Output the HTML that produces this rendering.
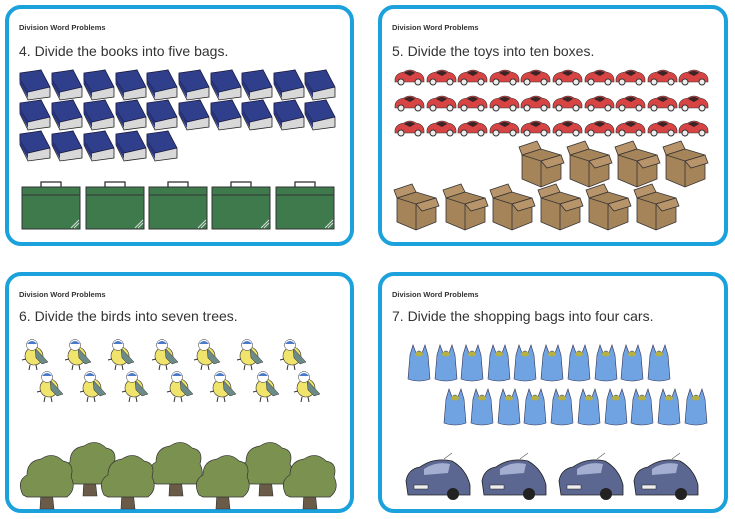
<!DOCTYPE html>
<html><head><meta charset="utf-8"><style>
html,body{margin:0;padding:0;background:#fff;width:735px;height:519px;overflow:hidden;font-family:"Liberation Sans",sans-serif}
.card{position:absolute;border:4px solid #1ba1dc;border-radius:16px;box-sizing:border-box;background:#fff}
.t1{position:absolute;left:10px;top:14px;font-size:7.5px;font-weight:bold;color:#333}
.t2{position:absolute;left:10px;top:34px;font-size:14px;color:#333}
svg{position:absolute;left:0;top:0}
</style></head><body>
<div class="card" style="left:5px;top:5px;width:349px;height:241px"><div class="t1">Division Word Problems</div><div class="t2">4. Divide the books into five bags.</div></div>
<div class="card" style="left:378px;top:5px;width:350px;height:241px"><div class="t1">Division Word Problems</div><div class="t2">5. Divide the toys into ten boxes.</div></div>
<div class="card" style="left:5px;top:272px;width:349px;height:241px"><div class="t1">Division Word Problems</div><div class="t2" style="top:32px">6. Divide the birds into seven trees.</div></div>
<div class="card" style="left:378px;top:272px;width:350px;height:241px"><div class="t1">Division Word Problems</div><div class="t2" style="top:32px">7. Divide the shopping bags into four cars.</div></div>
<svg width="735" height="519" viewBox="0 0 735 519">
<defs>
<g id="book"><path d="M1 4 L22 0 L31 18 L31 27 L9 30 L1 14Z" fill="#d8d8d8" stroke="#222" stroke-width=".8"/><path d="M1 3 L22 0 L31 17 L9 22 L1 10Z" fill="#2f3f8c" stroke="#1a1a40" stroke-width=".8"/><path d="M1 10 L9 22 L9 28 L1 14Z" fill="#2a3780"/></g>
<g id="bag"><rect x="20" y="0" width="20" height="6" fill="none" stroke="#333" stroke-width="1.3"/><rect x="1" y="5" width="58" height="42" fill="#3e7a4c" stroke="#333"/><line x1="1" y1="13" x2="59" y2="13" stroke="#333"/><path d="M50 46 L58 38 M53 46 L58 41" stroke="#ddd"/></g>
<g id="rcar"><path d="M1 11 Q2 5 10 4 Q16 0 22 4 Q29 5 30 11 L30 14 L1 14Z" fill="#d84444" stroke="#333" stroke-width=".6"/><path d="M10 5 Q16 1 21 5 L16 8Z" fill="#3a2424"/><circle cx="7" cy="14" r="3" fill="#eee" stroke="#333"/><circle cx="24" cy="14" r="3" fill="#eee" stroke="#333"/></g>
<g id="box"><path d="M3 14 L22 8 L42 14 L42 38 L22 46 L3 38Z" fill="#a6845a" stroke="#333" stroke-width=".8"/><path d="M3 14 L22 20 L42 14 M22 20 L22 46" stroke="#333" fill="none" stroke-width=".8"/><path d="M3 14 L0 6 L18 0 L22 8Z M42 14 L45 22 L28 27 L22 20Z" fill="#b8946a" stroke="#333" stroke-width=".8"/></g>
<g id="bird"><ellipse cx="12" cy="18" rx="9" ry="9" fill="#f1e46c" stroke="#333" stroke-width=".6"/><path d="M13 10 L26 24 L20 26 L14 20Z" fill="#6c8a86" stroke="#333" stroke-width=".5"/><circle cx="10" cy="7" r="5.5" fill="#fff" stroke="#333" stroke-width=".5"/><path d="M5 6 Q10 0 15 6Z" fill="#4a7ac8"/><path d="M8 27 L7 32 M14 27 L15 32 M0 22 L4 21" stroke="#333"/></g>
<g id="tree"><path d="M22 40 L21 58 L35 58 L33 40Z" fill="#6a5a48" stroke="#333" stroke-width=".6"/><path d="M4 44 Q-3 30 8 24 Q8 10 22 8 Q34 0 44 10 Q56 12 52 26 Q58 38 48 46 L8 46Z" fill="#7b9150" stroke="#333" stroke-width=".7"/></g>
<g id="sbag"><path d="M3 12 L6 2 L9 10 Q12 6 15 10 L18 2 L21 12 L23 36 Q12 40 1 36Z" fill="#6fa3e2" stroke="#335" stroke-width=".6"/><ellipse cx="12" cy="11" rx="4" ry="2.5" fill="#b5b040"/></g>
<g id="bcar"><path d="M2 26 Q4 14 16 12 Q30 2 48 6 Q62 14 66 30 L66 40 L4 40 Z" fill="#5b6691" stroke="#222" stroke-width=".8"/><path d="M20 14 Q32 6 46 9 L44 18 L20 20Z" fill="#a4aed0"/><rect x="10" y="30" width="14" height="4" fill="#eee" stroke="#222" stroke-width=".5"/><circle cx="49" cy="39" r="6" fill="#222"/><line x1="40" y1="4" x2="48" y2="-2" stroke="#555" stroke-width=".6"/></g>
</defs>
<g id="books">
<use href="#book" x="19" y="70"/><use href="#book" x="51" y="70"/><use href="#book" x="83" y="70"/><use href="#book" x="115" y="70"/><use href="#book" x="146" y="70"/><use href="#book" x="178" y="70"/><use href="#book" x="210" y="70"/><use href="#book" x="241" y="70"/><use href="#book" x="273" y="70"/><use href="#book" x="304" y="70"/>
<use href="#book" x="19" y="100"/><use href="#book" x="51" y="100"/><use href="#book" x="83" y="100"/><use href="#book" x="115" y="100"/><use href="#book" x="146" y="100"/><use href="#book" x="178" y="100"/><use href="#book" x="210" y="100"/><use href="#book" x="241" y="100"/><use href="#book" x="273" y="100"/><use href="#book" x="304" y="100"/>
<use href="#book" x="19" y="131"/><use href="#book" x="51" y="131"/><use href="#book" x="83" y="131"/><use href="#book" x="115" y="131"/><use href="#book" x="146" y="131"/>
</g>
<use href="#bag" x="21" y="182"/><use href="#bag" x="85" y="182"/><use href="#bag" x="148" y="182"/><use href="#bag" x="211" y="182"/><use href="#bag" x="275" y="182"/>
<g>
<use href="#rcar" x="394" y="68"/><use href="#rcar" x="426" y="68"/><use href="#rcar" x="457" y="68"/><use href="#rcar" x="489" y="68"/><use href="#rcar" x="520" y="68"/><use href="#rcar" x="552" y="68"/><use href="#rcar" x="584" y="68"/><use href="#rcar" x="615" y="68"/><use href="#rcar" x="647" y="68"/><use href="#rcar" x="678" y="68"/>
<use href="#rcar" x="394" y="94"/><use href="#rcar" x="426" y="94"/><use href="#rcar" x="457" y="94"/><use href="#rcar" x="489" y="94"/><use href="#rcar" x="520" y="94"/><use href="#rcar" x="552" y="94"/><use href="#rcar" x="584" y="94"/><use href="#rcar" x="615" y="94"/><use href="#rcar" x="647" y="94"/><use href="#rcar" x="678" y="94"/>
<use href="#rcar" x="394" y="119"/><use href="#rcar" x="426" y="119"/><use href="#rcar" x="457" y="119"/><use href="#rcar" x="489" y="119"/><use href="#rcar" x="520" y="119"/><use href="#rcar" x="552" y="119"/><use href="#rcar" x="584" y="119"/><use href="#rcar" x="615" y="119"/><use href="#rcar" x="647" y="119"/><use href="#rcar" x="678" y="119"/>
</g>
<use href="#box" x="519" y="141"/><use href="#box" x="567" y="141"/><use href="#box" x="615" y="141"/><use href="#box" x="663" y="141"/>
<use href="#box" x="394" y="184"/><use href="#box" x="443" y="184"/><use href="#box" x="490" y="184"/><use href="#box" x="538" y="184"/><use href="#box" x="586" y="184"/><use href="#box" x="634" y="184"/>
<use href="#bird" x="22" y="338"/><use href="#bird" x="65" y="338"/><use href="#bird" x="108" y="338"/><use href="#bird" x="152" y="338"/><use href="#bird" x="194" y="338"/><use href="#bird" x="237" y="338"/><use href="#bird" x="280" y="338"/>
<use href="#bird" x="37" y="370"/><use href="#bird" x="80" y="370"/><use href="#bird" x="122" y="370"/><use href="#bird" x="167" y="370"/><use href="#bird" x="210" y="370"/><use href="#bird" x="253" y="370"/><use href="#bird" x="294" y="370"/>
<use href="#tree" x="62" y="438"/><use href="#tree" x="148" y="438"/><use href="#tree" x="238" y="438"/>
<use href="#tree" x="19" y="451"/><use href="#tree" x="100" y="451"/><use href="#tree" x="195" y="451"/><use href="#tree" x="282" y="451"/>
<g>
<use href="#sbag" x="407" y="343"/><use href="#sbag" x="434" y="343"/><use href="#sbag" x="460" y="343"/><use href="#sbag" x="487" y="343"/><use href="#sbag" x="513" y="343"/><use href="#sbag" x="540" y="343"/><use href="#sbag" x="567" y="343"/><use href="#sbag" x="594" y="343"/><use href="#sbag" x="620" y="343"/><use href="#sbag" x="647" y="343"/>
<use href="#sbag" x="443" y="387"/><use href="#sbag" x="470" y="387"/><use href="#sbag" x="497" y="387"/><use href="#sbag" x="523" y="387"/><use href="#sbag" x="550" y="387"/><use href="#sbag" x="577" y="387"/><use href="#sbag" x="604" y="387"/><use href="#sbag" x="630" y="387"/><use href="#sbag" x="657" y="387"/><use href="#sbag" x="684" y="387"/>
</g>
<use href="#bcar" x="404" y="455"/><use href="#bcar" x="480" y="455"/><use href="#bcar" x="557" y="455"/><use href="#bcar" x="632" y="455"/>
</svg>
</body></html>
